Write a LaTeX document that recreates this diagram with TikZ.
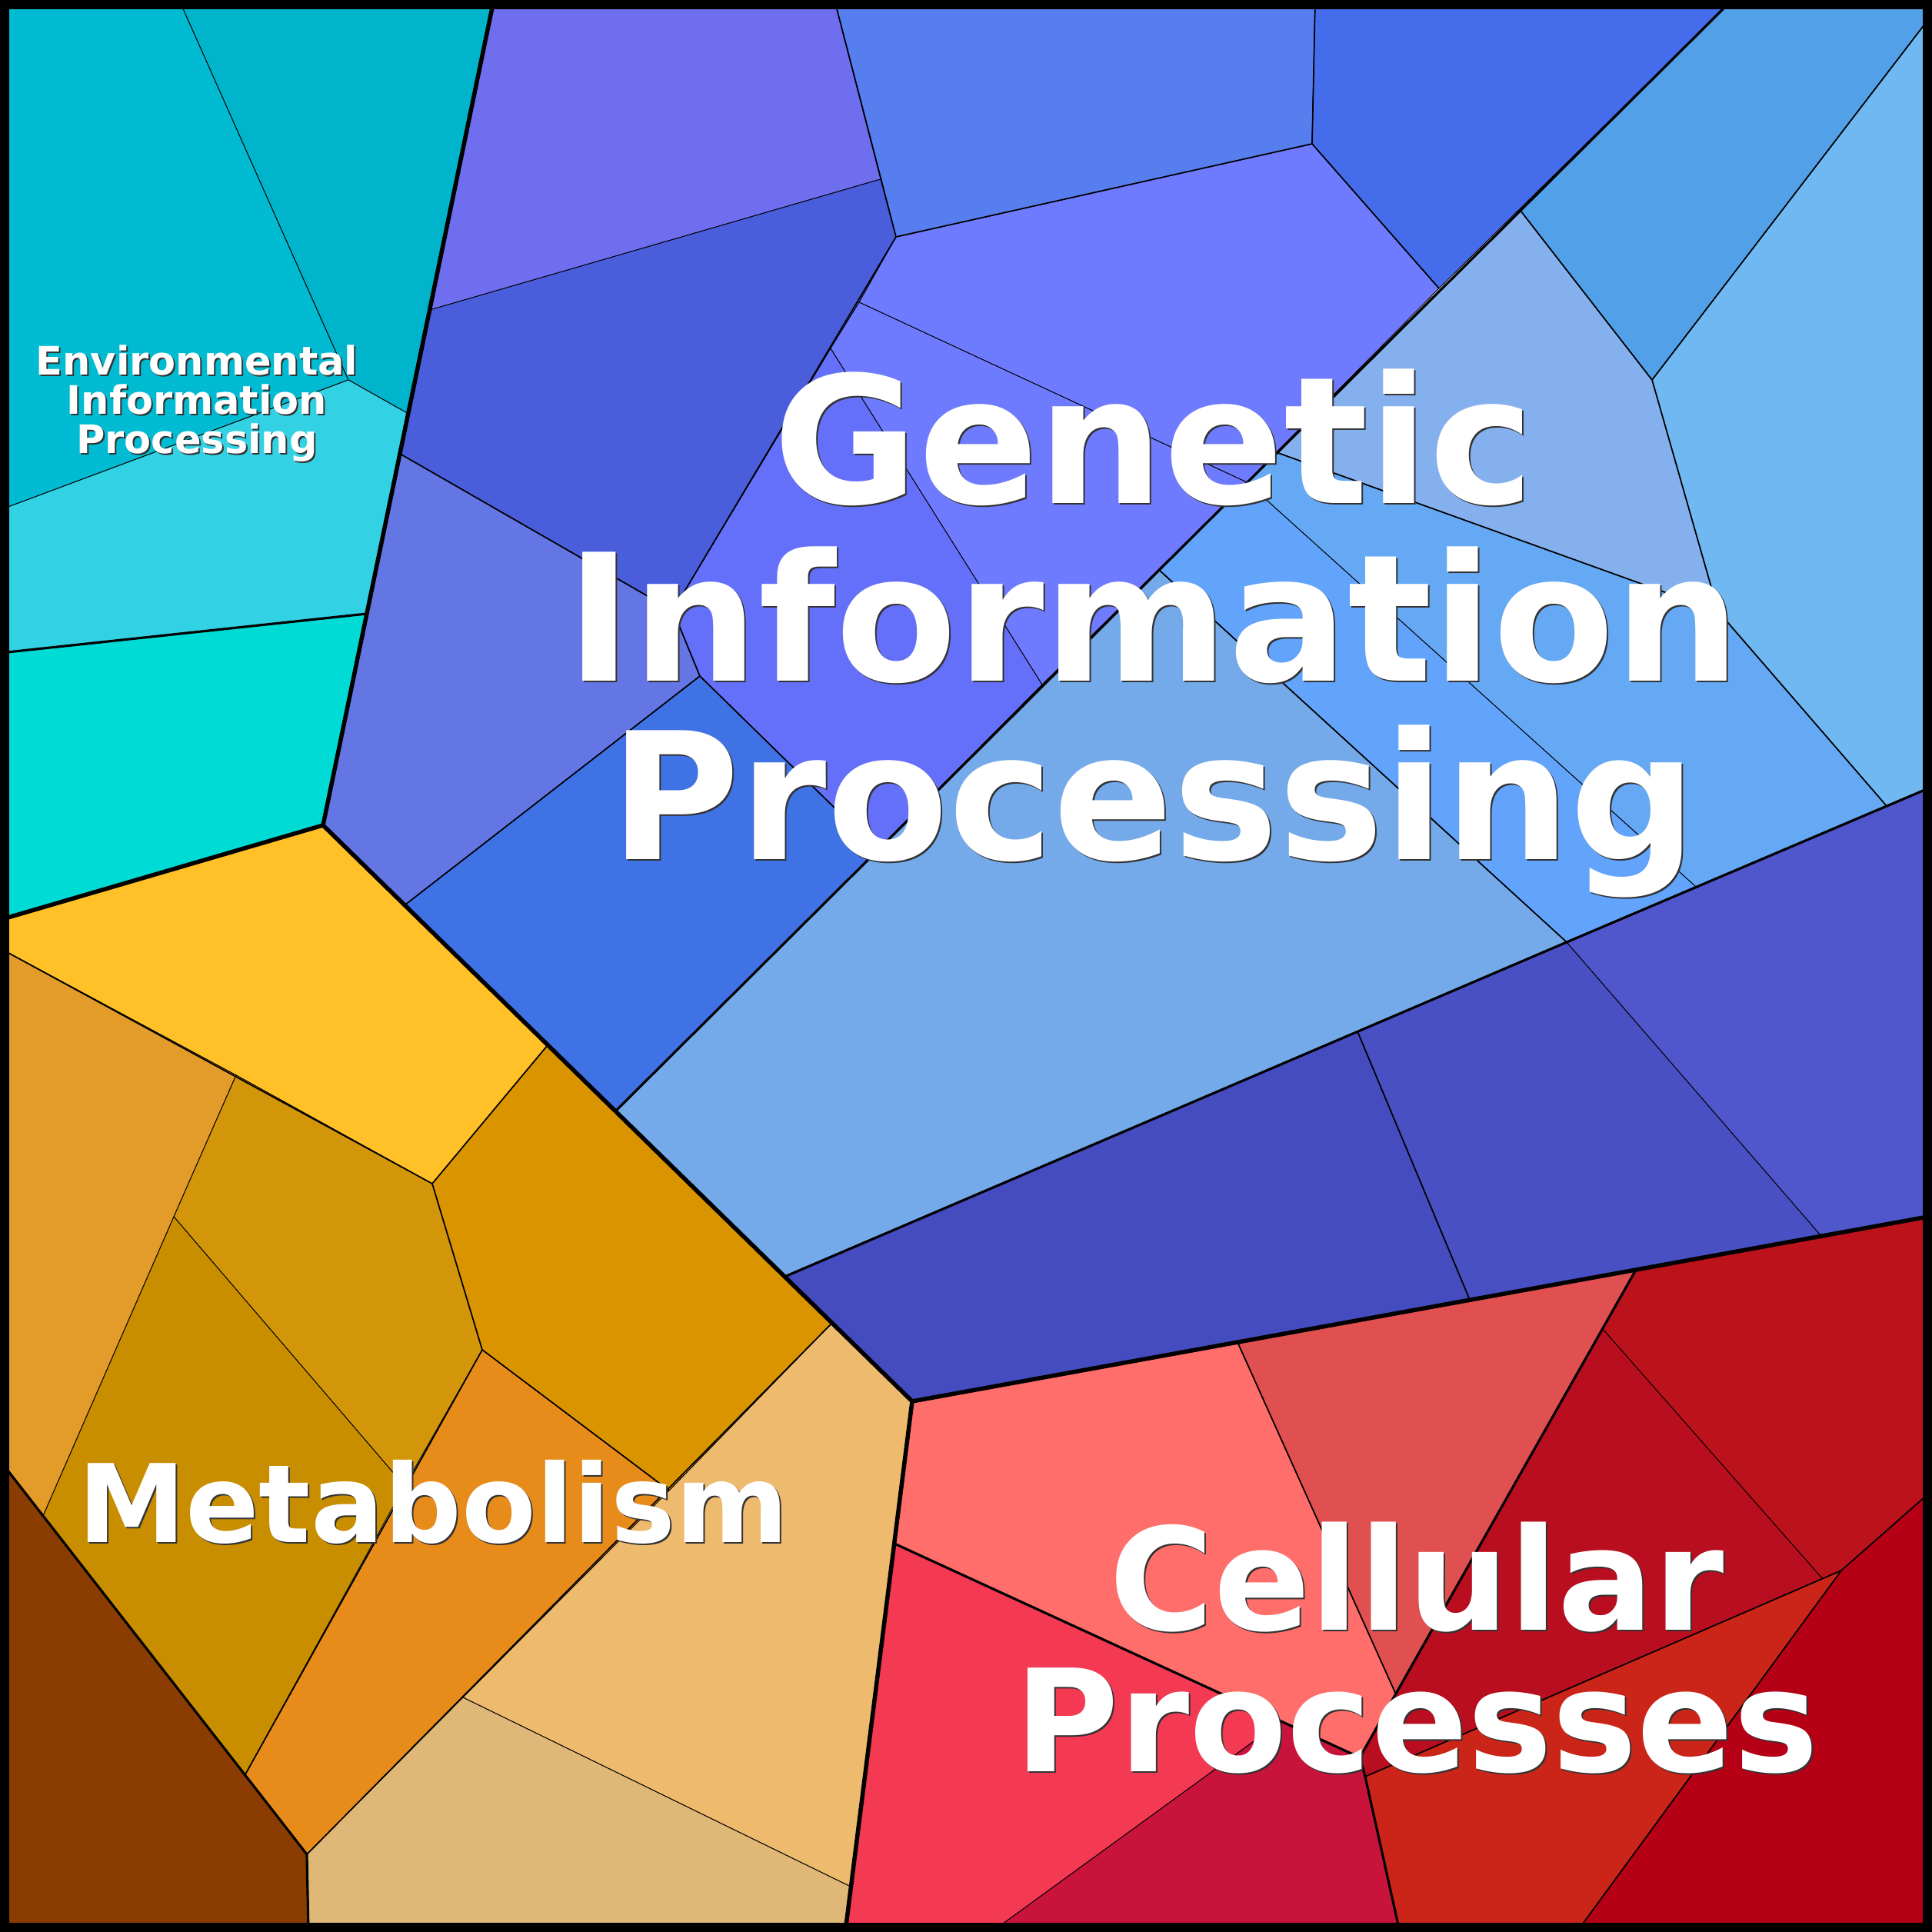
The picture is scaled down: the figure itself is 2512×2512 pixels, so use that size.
\documentclass[tikz,border=0pt]{standalone}
\usepackage{fontspec}
\newfontfamily\labelfont{DejaVu Sans}

% environmental
\definecolor{envA}{HTML}{00BBD1}
\definecolor{envB}{HTML}{00B4CC}
\definecolor{envC}{HTML}{33D1E4}
\definecolor{envD}{HTML}{00DCD5}
% genetic
\definecolor{genPa}{HTML}{6E6EEE}
\definecolor{genPb}{HTML}{4A5EDC}
\definecolor{genPc}{HTML}{6476E4}
\definecolor{genBl}{HTML}{3F72E5}
\definecolor{genX}{HTML}{6570FA}
\definecolor{genY}{HTML}{6F7BFE}
\definecolor{genQa}{HTML}{567EEE}
\definecolor{genQb}{HTML}{456CEA}
\definecolor{genRa}{HTML}{51A0E8}
\definecolor{genRb}{HTML}{6FB8F2}
\definecolor{genRc}{HTML}{85B0EE}
\definecolor{genRd}{HTML}{65A9F4}
\definecolor{genRe}{HTML}{62A3FC}
\definecolor{genRf}{HTML}{74AAE9}
\definecolor{genBa}{HTML}{444CBF}
\definecolor{genBb}{HTML}{4850C3}
\definecolor{genBc}{HTML}{5056CB}
% metabolism
\definecolor{metYe}{HTML}{FFC028}
\definecolor{metOl}{HTML}{E39B29}
\definecolor{metGo}{HTML}{D3960A}
\definecolor{metDg}{HTML}{C98E00}
\definecolor{metDo}{HTML}{D99400}
\definecolor{metOr}{HTML}{E78C1B}
\definecolor{metBr}{HTML}{8B3C00}
\definecolor{metLo}{HTML}{EEBA6E}
\definecolor{metTa}{HTML}{DFB776}
% cellular
\definecolor{celSa}{HTML}{FF6E6A}
\definecolor{celRo}{HTML}{E05050}
\definecolor{celC}{HTML}{B80E1F}
\definecolor{celD}{HTML}{BC121C}
\definecolor{celE}{HTML}{B50015}
\definecolor{celF}{HTML}{CB2519}
\definecolor{celG}{HTML}{F43953}
\definecolor{celH}{HTML}{C8143B}

\tikzset{
  cell/.style={draw=black, line width=0.26pt, line join=round},
  lvlone/.style={line width=1.56pt, line join=round},
  lvltwo/.style={line width=0.9pt, line join=round},
  lvlthree/.style={line width=0.48pt, line join=round},
  grouptext/.style={text=white, align=center, inner sep=0pt, anchor=base},
  groupshadow/.style={grouptext, text=black!80}
}

\begin{document}
\begin{tikzpicture}[x=0.01cm, y=-0.01cm]
\useasboundingbox (0,0) rectangle (2512,2512);

% Environmental Information Processing
\filldraw[cell, fill=envA] (0,0)--(233,0)--(453,494)--(0,663)--cycle;
\filldraw[cell, fill=envB] (233,0)--(642,0)--(531,538)--(453,494)--cycle;
\filldraw[cell, fill=envC] (0,663)--(453,494)--(531,538)--(477,798)--(0,849)--cycle;
\filldraw[cell, fill=envD] (0,849)--(477,798)--(420,1073)--(0,1196)--cycle;

% Genetic Information Processing
\filldraw[cell, fill=genPa] (642,0)--(1085,0)--(1145,233)--(559,403)--cycle;
\filldraw[cell, fill=genPb] (559,403)--(1145,233)--(1165,308)--(1117,393)--(1080,453)--(875,794)--(520,590)--cycle;
\filldraw[cell, fill=genPc] (520,590)--(875,794)--(910,879)--(526,1177)--(420,1073)--cycle;
\filldraw[cell, fill=genBl] (526,1177)--(910,879)--(1141,1105)--(800,1445)--(712,1359)--cycle;
\filldraw[cell, fill=genX] (1080,453)--(1355,890)--(1141,1105)--(910,879)--(875,794)--cycle;
\filldraw[cell, fill=genY] (1165,308)--(1706,187)--(1871,375)--(1621,627)--(1117,393)--cycle;
\filldraw[cell, fill=genY] (1117,393)--(1621,627)--(1355,890)--(1080,453)--cycle;
\filldraw[cell, fill=genQa] (1085,0)--(1710,0)--(1706,187)--(1165,308)--cycle;
\filldraw[cell, fill=genQb] (1710,0)--(2252,0)--(1871,375)--(1706,187)--cycle;
\filldraw[cell, fill=genRa] (2252,0)--(2512,0)--(2512,19)--(2148,494)--(1977,274)--cycle;
\filldraw[cell, fill=genRb] (2512,19)--(2512,1023)--(2453,1048)--(2234,795)--(2148,494)--cycle;
\filldraw[cell, fill=genRc] (1977,274)--(2148,494)--(2234,795)--(1662,589)--cycle;
\filldraw[cell, fill=genRd] (1662,589)--(2234,795)--(2453,1048)--(2205,1153)--(1621,627)--cycle;
\filldraw[cell, fill=genRe] (1621,627)--(2205,1153)--(2037,1225)--(1507,741)--cycle;
\filldraw[cell, fill=genRf] (1507,741)--(2037,1225)--(1020,1660)--(800,1445)--cycle;
\filldraw[cell, fill=genBa] (1020,1660)--(1765,1341)--(1911,1690)--(1186,1822)--(1082,1720)--cycle;
\filldraw[cell, fill=genBb] (1765,1341)--(2037,1225)--(2368,1607)--(1911,1690)--cycle;
\filldraw[cell, fill=genBc] (2037,1225)--(2512,1023)--(2512,1581)--(2368,1607)--cycle;

% Metabolism
\filldraw[cell, fill=metYe] (0,1196)--(420,1073)--(526,1177)--(712,1359)--(562,1539)--(307,1398)--(0,1233)--cycle;
\filldraw[cell, fill=metOl] (0,1233)--(307,1398)--(226,1582)--(56,1971)--(0,1899)--cycle;
\filldraw[cell, fill=metGo] (307,1398)--(562,1539)--(627,1755)--(526,1932)--(226,1582)--cycle;
\filldraw[cell, fill=metDg] (226,1582)--(526,1932)--(319,2307)--(56,1971)--cycle;
\filldraw[cell, fill=metDo] (712,1359)--(800,1445)--(1020,1660)--(1082,1720)--(870,1938)--(627,1755)--(562,1539)--cycle;
\filldraw[cell, fill=metOr] (627,1755)--(870,1938)--(399,2411)--(319,2307)--cycle;
\filldraw[cell, fill=metBr] (0,1899)--(399,2411)--(401,2512)--(0,2512)--cycle;
\filldraw[cell, fill=metLo] (1082,1720)--(1186,1822)--(1163,2007)--(1106,2453)--(602,2207)--(870,1938)--cycle;
\filldraw[cell, fill=metTa] (602,2207)--(1106,2453)--(1099,2512)--(401,2512)--(399,2411)--cycle;

% Cellular Processes
\filldraw[cell, fill=celSa] (1186,1822)--(1609,1745)--(1815,2203)--(1768,2285)--(1163,2007)--cycle;
\filldraw[cell, fill=celRo] (1609,1745)--(1911,1690)--(2127,1651)--(1815,2203)--cycle;
\filldraw[cell, fill=celC] (2084,1728)--(2370,2053)--(1775,2310)--(1768,2285)--cycle;
\filldraw[cell, fill=celD] (2127,1651)--(2368,1607)--(2512,1581)--(2512,1938)--(2394,2042)--(2370,2053)--(2084,1728)--cycle;
\filldraw[cell, fill=celE] (2512,1938)--(2512,2512)--(2050,2512)--(2394,2042)--cycle;
\filldraw[cell, fill=celF] (2394,2042)--(2050,2512)--(1820,2512)--(1775,2310)--cycle;
\filldraw[cell, fill=celG] (1163,2007)--(1666,2238)--(1289,2512)--(1099,2512)--(1106,2453)--cycle;
\filldraw[cell, fill=celH] (1666,2238)--(1768,2285)--(1775,2310)--(1820,2512)--(1289,2512)--cycle;

% inner borders
\draw[lvlthree] (1085,0)--(1165,308)--(1706,187)--(1710,0);
\draw[lvlthree] (1706,187)--(1871,375);
\draw[lvlthree] (1165,308)--(875,794)--(520,590);
\draw[lvlthree] (875,794)--(910,879)--(526,1177);
\draw[lvlthree] (910,879)--(1141,1105);
\draw[lvlthree] (1977,274)--(2148,494)--(2512,19);
\draw[lvlthree] (2148,494)--(2234,795)--(2453,1048);
\draw[lvlthree] (1662,589)--(2234,795);
\draw[lvlthree] (1507,741)--(2037,1225);
\draw[lvlthree] (1765,1341)--(1911,1690);
\draw[lvlthree] (0,1233)--(562,1539)--(712,1359);
\draw[lvlthree] (562,1539)--(627,1755)--(319,2307);
\draw[lvlthree] (627,1755)--(870,1938);
\draw[lvlthree] (1082,1720)--(399,2411);
\draw[lvlthree] (1609,1745)--(1815,2203);
\draw[lvlthree] (2512,1938)--(2394,2042)--(2050,2512);
\draw[lvlthree] (2394,2042)--(1775,2310);

\draw[lvltwo] (0,849)--(477,798);
\draw[lvltwo] (2252,0)--(800,1445);
\draw[lvltwo] (1020,1660)--(2037,1225)--(2512,1023);
\draw[lvltwo] (0,1899)--(399,2411)--(401,2512);
\draw[lvltwo] (2127,1651)--(1768,2285);
\draw[lvltwo] (1163,2007)--(1768,2285)--(1775,2310)--(1820,2512);

\draw[lvlone] (642,0)--(420,1073)--(0,1196);
\draw[lvlone] (420,1073)--(1186,1822);
\draw[lvlone] (1186,1822)--(2512,1581);
\draw[lvlone] (1186,1822)--(1099,2512);

% frame
\draw[line width=3.41pt] (6,6) rectangle (2506,2506);

% group names
\node[groupshadow, font={\labelfont\bfseries\fontsize{14.5pt}{14.5pt}\selectfont}] (envshadow) at (258,591) {Environmental\\Information\\Processing};
\node[grouptext, font={\labelfont\bfseries\fontsize{14.5pt}{14.5pt}\selectfont}] (envname) at (256,589) {Environmental\\Information\\Processing};
\node[groupshadow, font={\labelfont\bfseries\fontsize{65.4pt}{65.7pt}\selectfont}] (genshadow) at (1502,1119) {Genetic\\Information\\Processing};
\node[grouptext, font={\labelfont\bfseries\fontsize{65.4pt}{65.7pt}\selectfont}] (genname) at (1500,1117) {Genetic\\Information\\Processing};
\node[groupshadow, font={\labelfont\bfseries\fontsize{40.1pt}{40.1pt}\selectfont}] (metshadow) at (565,2007) {Metabolism};
\node[grouptext, font={\labelfont\bfseries\fontsize{40.1pt}{40.1pt}\selectfont}] (metname) at (563,2005) {Metabolism};
\node[groupshadow, font={\labelfont\bfseries\fontsize{52.6pt}{52.3pt}\selectfont}] (celshadow) at (1844,2305) {Cellular\\Processes};
\node[grouptext, font={\labelfont\bfseries\fontsize{52.6pt}{52.3pt}\selectfont}] (celname) at (1842,2303) {Cellular\\Processes};
\end{tikzpicture}
\end{document}
